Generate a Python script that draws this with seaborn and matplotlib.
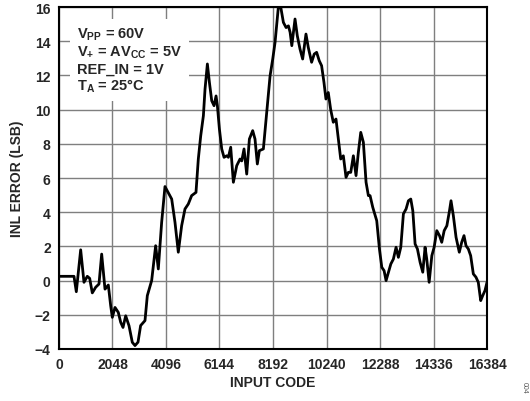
import numpy as np
import pandas as pd
import matplotlib
matplotlib.use("Agg")
import matplotlib.pyplot as plt
import seaborn as sns

# INL error vs input code
codes = [0, 574, 663, 830, 957, 1083, 1175, 1275, 1404, 1531, 1634, 1761, 1888,
         1979, 2041, 2144, 2270, 2362, 2450, 2553, 2680, 2806, 2910, 3025, 3125,
         3292, 3381, 3547, 3700, 3802, 3930, 4057, 4314, 4440, 4567, 4695, 4823,
         4950, 5078, 5244, 5333, 5425, 5527, 5590, 5680, 5757, 5846, 5935, 6012,
         6063, 6140, 6229, 6318, 6420, 6484, 6573, 6675, 6803, 6930, 6995, 7083,
         7186, 7288, 7415, 7503, 7592, 7670, 7823, 7950, 8080, 8182, 8270, 8397,
         8488, 8590, 8693, 8782, 8847, 8912, 9035, 9122, 9226, 9327, 9454, 9542,
         9670, 9770, 9862, 9962, 10052, 10142, 10218, 10308, 10400, 10500, 10603,
         10692, 10784, 10884, 10987, 11076, 11168, 11268, 11370, 11459, 11551,
         11651, 11754, 11843, 11907, 12010, 12163, 12266, 12356, 12444, 12520,
         12610, 12702, 12800, 12903, 12991, 13083, 13183, 13286, 13375, 13466,
         13543, 13631, 13720, 13823, 13925, 14013, 14077, 14169, 14272, 14360,
         14462, 14565, 14651, 14744, 14847, 14948, 15006, 15095, 15199, 15323,
         15415, 15503, 15580, 15669, 15758, 15860, 15961, 16050, 16142, 16219,
         16307, 16384]
inl = [0.25, 0.25, -0.65, 1.8, -0.1, 0.25, 0.13, -0.72, -0.39, -0.2, 1.55, -0.5, -0.26,
       -1.47, -2.15, -1.57, -1.86, -2.44, -2.74, -2.06, -2.64, -3.61, -3.8, -3.6, -2.63,
       -2.34, -0.88, 0.0, 2.04, 0.68, 3.41, 5.5, 4.77, 3.41, 1.66, 3.21, 4.19,
       4.48, 4.97, 5.16, 7.11, 8.47, 9.64, 11.2, 12.67, 11.6, 10.52, 10.23, 10.8,
       10.23, 8.87, 7.7, 7.21, 7.3, 7.21, 7.8, 5.75, 6.72, 7.11, 7.0, 7.7,
       6.23, 8.28, 8.77, 8.28, 6.82, 7.6, 7.7, 9.84, 11.98, 12.96, 13.93, 16.0,
       16.0, 15.1, 14.8, 14.9, 14.52, 13.74, 15.3, 14.32, 13.54, 12.96, 14.42, 13.64,
       12.77, 13.25, 13.35, 12.86, 12.57, 11.6, 10.62, 11.0, 10.0, 9.26, 9.45,
       8.28, 7.11, 7.3, 6.04, 6.33, 6.33, 7.3, 6.14, 7.5, 8.67,
       8.09, 5.75, 4.97, 4.97, 4.29, 3.5, 1.85, 0.78, 0.58, 0.0,
       0.49, 0.97, 1.26, 1.95, 1.36, 1.95, 3.9, 4.19, 4.67, 4.77,
       4.09, 2.14, 1.85, 1.07, 0.49, 1.95, 1.26, -0.1, 1.46, 1.95,
       2.92, 2.63, 2.24, 2.92, 3.21, 4.09, 4.67, 3.8, 2.53, 1.66,
       2.24, 2.63, 2.04, 1.85, 1.46, 0.39, 0.2, -0.1, -1.17, -0.88,
       -0.58, -0.1]

xticks = [0, 2048, 4096, 6144, 8192, 10240, 12288, 14336, 16384]
yticks = [-4, -2, 0, 2, 4, 6, 8, 10, 12, 14, 16]
conditions = ["V$_{PP}$ = 60V", "V$_{+}$ = AV$_{CC}$ = 5V", "REF_IN = 1V", "T$_{A}$ = 25°C"]

sns.set_style("white")
plt.rcParams['font.family'] = ['Liberation Sans', 'DejaVu Sans']
plt.rcParams['font.weight'] = 'bold'
plt.rcParams['mathtext.fontset'] = 'custom'
plt.rcParams['mathtext.rm'] = 'Liberation Sans:bold'
plt.rcParams['mathtext.bf'] = 'Liberation Sans:bold'
plt.rcParams['mathtext.default'] = 'bf'

df = pd.DataFrame({"code": codes, "inl": inl})

fig = plt.figure(figsize=(5.30, 4.02), dpi=100)
ax = fig.add_axes([0.1113, 0.1294, 0.8076, 0.8506])

sns.lineplot(data=df, x="code", y="inl", ax=ax, color="black", linewidth=2.0,
             estimator=None, sort=False)

ax.set_xlim(0, 16384)
ax.set_ylim(-4, 16)
ax.set_xticks(xticks)
ax.set_yticks(yticks)
ax.set_xticklabels([str(t) for t in xticks], fontsize=10, fontweight="bold")
ax.set_yticklabels([str(t).replace("-", "\u2212") for t in yticks], fontsize=10, fontweight="bold")
ax.tick_params(length=0, pad=6)
ax.grid(True, color="#7f7f7f", linewidth=1.0)
ax.set_axisbelow(True)
for s in ax.spines.values():
    s.set_color("black")
    s.set_linewidth(1.5)

ax.set_xlabel("INPUT CODE", fontsize=10, fontweight="bold", labelpad=3)
ax.set_ylabel("INL ERROR (LSB)", fontsize=10, fontweight="bold", labelpad=8)

ax.text(0.042, 0.945, "\n".join(conditions), transform=ax.transAxes, fontsize=10.5,
        fontweight="bold", va="top", ha="left", linespacing=1.12,
        bbox=dict(facecolor="white", edgecolor="none", pad=5), zorder=5)

fig.text(0.99, 0.035, "004", rotation=270, fontsize=5, color="#555555",
         fontweight="normal", ha="center", va="center")

fig.savefig("out.png", dpi=100)
